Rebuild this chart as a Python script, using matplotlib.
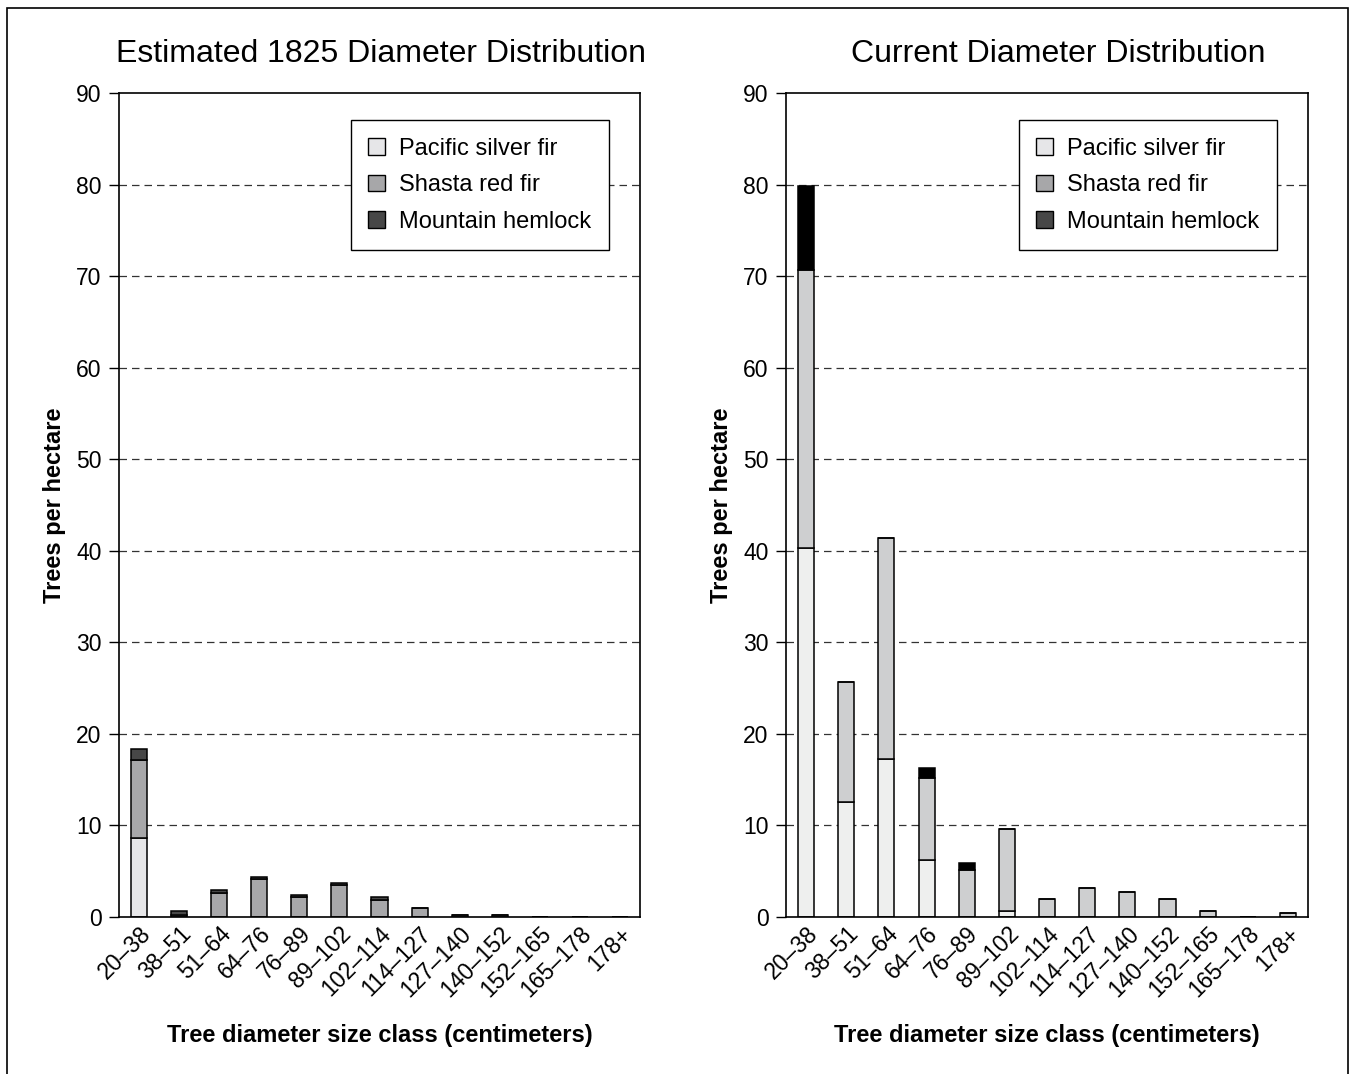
import matplotlib.pyplot as plt
from matplotlib.patches import Rectangle, Patch

plt.rcParams['font.family'] = ['Liberation Sans', 'DejaVu Sans']

size_classes = ["20–38", "38–51", "51–64", "64–76", "76–89", "89–102", "102–114",
                "114–127", "127–140", "140–152", "152–165", "165–178", "178+"]
species = ["Pacific silver fir", "Shasta red fir", "Mountain hemlock"]

# trees per hectare, estimated 1825
past_silver = [8.6, 0.0, 0.0, 0.0, 0.0, 0.0, 0.0, 0.0, 0.0, 0.0, 0.0, 0.0, 0.0]
past_shasta = [8.5, 0.2, 2.65, 4.1, 2.15, 3.45, 1.9, 0.95, 0.2, 0.2, 0.0, 0.0, 0.0]
past_hemlock = [1.2, 0.4, 0.25, 0.3, 0.25, 0.25, 0.3, 0.0, 0.0, 0.0, 0.0, 0.0, 0.0]

# trees per hectare, current
now_silver = [40.3, 12.6, 17.3, 6.2, 0.0, 0.7, 0.0, 0.0, 0.0, 0.0, 0.0, 0.0, 0.0]
now_shasta = [30.4, 13.1, 24.1, 9.0, 5.1, 8.9, 2.0, 3.2, 2.7, 2.0, 0.7, 0.0, 0.47]
now_hemlock = [9.1, 0.0, 0.0, 1.1, 0.8, 0.0, 0.0, 0.0, 0.0, 0.0, 0.0, 0.0, 0.0]

legend_colors = ["#e6e6e8", "#a7a7a9", "#474747"]
past_colors = ["#e6e6e8", "#a7a7a9", "#474747"]
now_colors = ["#eeefee", "#cecfd0", "#000000"]

fig = plt.figure(figsize=(13.51, 10.74), dpi=100)

# outer frame
fig.patches.append(Rectangle((0.0052, -0.01), 0.9926, 1.0026, transform=fig.transFigure,
                             fill=False, edgecolor="black", linewidth=1.2))

ax1 = fig.add_axes([0.0881, 0.1462, 0.3856, 0.7672])
ax2 = fig.add_axes([0.5818, 0.1462, 0.3864, 0.7672])


def draw_panel(ax, series, colors, title, title_x):
    x = range(len(size_classes))
    bottom = [0.0] * len(size_classes)
    for vals, col in zip(series, colors):
        ax.bar(x, vals, width=0.4, bottom=bottom, color=col, edgecolor="black",
               linewidth=1.1, zorder=2)
        bottom = [b + v for b, v in zip(bottom, vals)]
    ax.set_xlim(-0.5, len(size_classes) - 0.5)
    ax.set_ylim(0, 90)
    ax.set_yticks(range(0, 91, 10))
    ax.tick_params(axis="y", direction="out", length=7, width=1, labelsize=16.5, pad=5.5)
    ax.tick_params(axis="x", length=0, labelsize=16.5, pad=4)
    ax.set_xticks(list(x))
    ax.set_xticklabels(size_classes, rotation=45, ha="right", rotation_mode="anchor")
    for y in range(10, 90, 10):
        ax.axhline(y, color="#333333", linestyle=(0, (6, 4)), linewidth=0.9, zorder=1)
    for s in ax.spines.values():
        s.set_linewidth(1.2)
    ax.set_title(title, fontsize=23, pad=22, x=title_x)
    ax.set_ylabel("Trees per hectare", fontsize=17, fontweight="bold", labelpad=7)
    ax.set_xlabel("Tree diameter size class (centimeters)", fontsize=17,
                  fontweight="bold", labelpad=16)
    handles = [Patch(facecolor=c, edgecolor="black", linewidth=1) for c in legend_colors]
    leg = ax.legend(handles, species, loc="upper right", bbox_to_anchor=(0.941, 0.967),
                    fontsize=17, fancybox=False, framealpha=1, edgecolor="black",
                    handlelength=0.72, handleheight=0.72, handletextpad=0.6,
                    labelspacing=0.61, borderpad=0.75, borderaxespad=0)
    leg.get_frame().set_linewidth(1)
    leg.set_zorder(5)


draw_panel(ax1, [past_silver, past_shasta, past_hemlock], past_colors,
           "Estimated 1825 Diameter Distribution", 0.502)
draw_panel(ax2, [now_silver, now_shasta, now_hemlock], now_colors,
           "Current Diameter Distribution", 0.521)

fig.savefig("out.png", dpi=100)
